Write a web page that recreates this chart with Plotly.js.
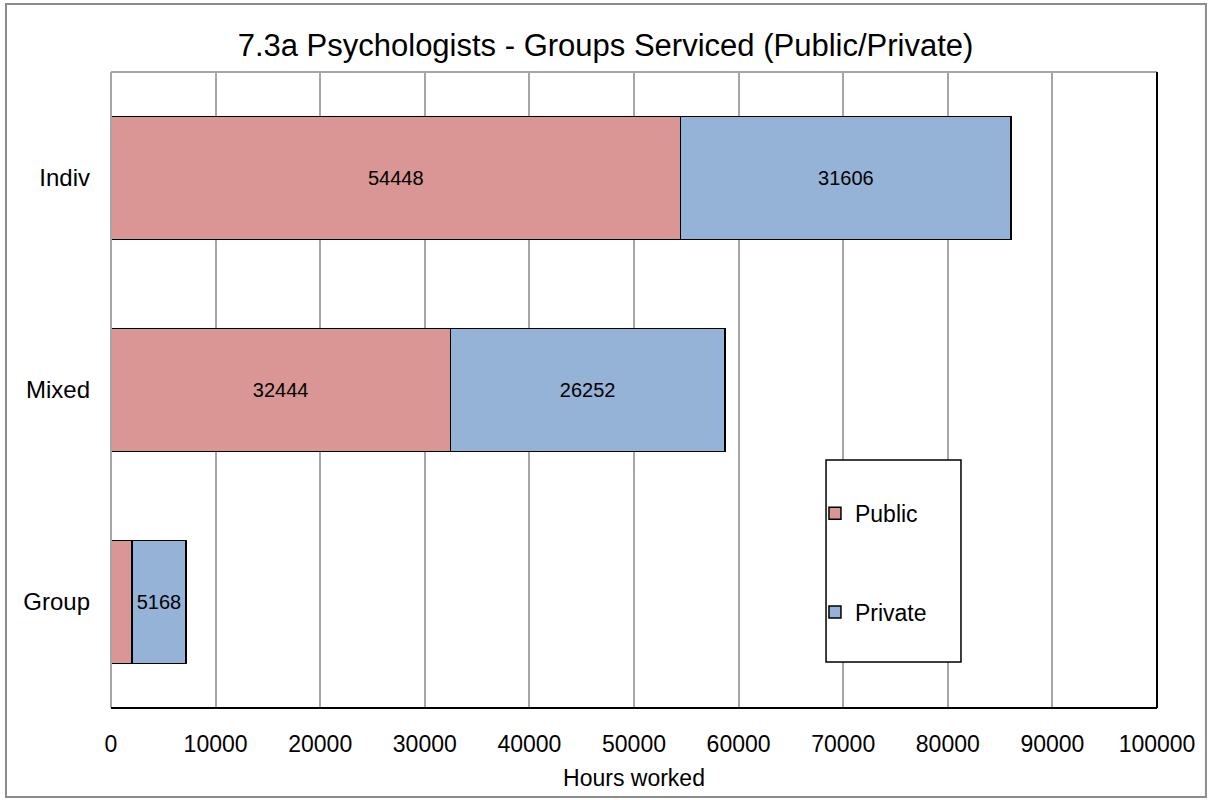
<!DOCTYPE html>
<html>
<head>
<meta charset="utf-8">
<script src="https://cdn.plot.ly/plotly-3.0.1.min.js"></script>
<style>
  body { margin: 0; background: #fff; }
  #chart { width: 1211px; height: 800px; }
</style>
</head>
<body>
<div id="chart"></div>
<script>
// data
var groups = ["Group", "Mixed", "Indiv"];
var publicHours = [2000, 32444, 54448];
var privateHours = [5168, 26252, 31606];

var barLine = {color: "#000000", width: 1.5};
var txtFont = {family: "Liberation Sans, Arial, sans-serif", size: 20, color: "#000000"};

var data = [{
  y: groups,
  x: publicHours,
  name: "Public",
  type: "bar",
  orientation: "h",
  marker: {color: "#D99694", line: barLine},
  text: publicHours.map(String),
  textposition: "inside",
  insidetextanchor: "middle",
  textangle: 0,
  textfont: txtFont,
  legendgroup: "a",
  hoverinfo: "x+name"
}, {
  y: groups,
  x: privateHours,
  name: "Private",
  type: "bar",
  orientation: "h",
  marker: {color: "#95B3D7", line: barLine},
  text: privateHours.map(String),
  textposition: "inside",
  insidetextanchor: "middle",
  textangle: 0,
  textfont: txtFont,
  legendgroup: "b",
  hoverinfo: "x+name"
}];

var layout = {
  width: 1211,
  height: 800,
  margin: {l: 111, r: 54, t: 72, b: 92},
  paper_bgcolor: "#ffffff",
  plot_bgcolor: "#ffffff",
  font: {family: "Liberation Sans, Arial, sans-serif", size: 23, color: "#000000"},
  barmode: "stack",
  bargap: 0.42,
  uniformtext: {mode: "hide", minsize: 18},
  title: {
    text: "7.3a Psychologists - Groups Serviced (Public/Private)",
    font: {size: 31, color: "#000000"},
    x: 0.5, xanchor: "center",
    y: 0.943, yanchor: "middle"
  },
  xaxis: {
    range: [0, 100000],
    dtick: 10000,
    tickformat: "d",
    showgrid: true,
    gridcolor: "#a6a6a6",
    gridwidth: 2,
    zeroline: false,
    showline: false,
    ticks: "",
    ticklabelstandoff: 20,
    title: {text: "Hours worked", font: {size: 23}, standoff: 13}
  },
  yaxis: {
    showgrid: false,
    zeroline: false,
    showline: false,
    ticks: "",
    tickfont: {size: 24},
    ticklabelstandoff: 20
  },
  showlegend: true,
  legend: {
    x: 0.673, xanchor: "left",
    y: 0.34, yanchor: "top",
    traceorder: "grouped",
    tracegroupgap: 66,
    bgcolor: "rgba(0,0,0,0)",
    borderwidth: 0,
    font: {size: 23},
    itemwidth: 30
  },
  shapes: [
    // outer chart border
    {type: "rect", xref: "paper", yref: "paper", x0: -0.1004, x1: 1.0468, y0: -0.14, y1: 1.107,
     line: {color: "#8c8c8c", width: 2}, layer: "below"},
    // plot area frame
    {type: "line", xref: "paper", yref: "paper", x0: 0, x1: 1, y0: 1, y1: 1, line: {color: "#a6a6a6", width: 2}},
    {type: "line", xref: "paper", yref: "paper", x0: 0, x1: 0, y0: 0, y1: 1, line: {color: "#a6a6a6", width: 2}},
    {type: "line", xref: "paper", yref: "paper", x0: 1, x1: 1, y0: 0, y1: 1, line: {color: "#000000", width: 2}},
    {type: "line", xref: "paper", yref: "paper", x0: 0, x1: 1, y0: 0, y1: 0, line: {color: "#000000", width: 2}},
    // legend box
    {type: "rect", xref: "paper", yref: "paper", x0: 0.6836, x1: 0.8126, y0: 0.0723, y1: 0.39,
     line: {color: "#000000", width: 1.5}, fillcolor: "#ffffff"}
  ]
};

Plotly.newPlot("chart", data, layout, {displayModeBar: false});
</script>
</body>
</html>
